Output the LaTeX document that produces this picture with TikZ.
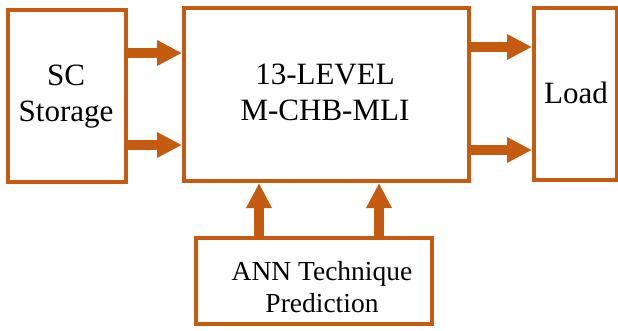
\documentclass[tikz,border=0pt]{standalone}
\usepackage{fontspec}
\setmainfont{Liberation Serif}
\usetikzlibrary{arrows.meta}
\definecolor{rust}{HTML}{C55A11}
\begin{document}
\begin{tikzpicture}[x=1pt,y=-1pt,
  blk/.style={draw=rust,line width=4pt,fill=white,rectangle,inner sep=0pt},
  lbl/.style={align=center,font=\fontsize{31}{36}\selectfont},
  flow/.style={draw=rust,line width=9.5pt,-{Triangle[length=25pt,width=24pt]},shorten <=-0.5pt}]
\useasboundingbox (0,0) rectangle (618,331);
% blocks
\node[blk,minimum width=117.5pt,minimum height=172pt] (sc) at (66.75,96) {};
\node[blk,minimum width=285pt,minimum height=173pt] (inv) at (326.5,94.5) {};
\node[blk,minimum width=83pt,minimum height=172.5pt] (load) at (575.5,94.25) {};
\node[blk,minimum width=236pt,minimum height=86pt] (ann) at (314,281) {};
% labels
\node[lbl] (scTxt) at (66,97) {SC\\Storage};
\node[lbl] (invTxt) at (325,92) {13-LEVEL\\M-CHB-MLI};
\node[lbl] (loadTxt) at (576,93) {Load};
\node[lbl,font=\fontsize{27.5}{32}\selectfont] (annTxt) at (322,287) {ANN Technique\\Prediction};
% power flow
\draw[flow] (sc.east |- 0,53) -- (inv.west |- 0,53);
\draw[flow] (sc.east |- 0,145) -- (inv.west |- 0,145);
\draw[flow] (inv.east |- 0,47) -- (load.west |- 0,47);
\draw[flow] (inv.east |- 0,150) -- (load.west |- 0,150);
% control signals
\draw[flow] (ann.north -| 259,0) -- (inv.south -| 259,0);
\draw[flow] (ann.north -| 379,0) -- (inv.south -| 379,0);
\end{tikzpicture}
\end{document}
